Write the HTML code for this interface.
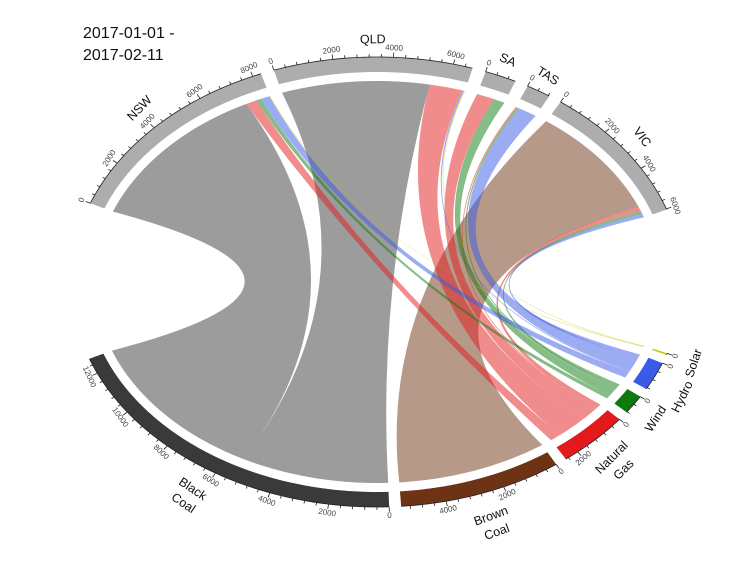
<!DOCTYPE html>
<html><head><meta charset="utf-8"><style>
html,body{margin:0;padding:0;background:#fff;}
svg{display:block;font-family:"Liberation Sans",sans-serif;}
</style></head><body>
<svg id="chart" width="754" height="566" viewBox="0 0 754 566">
<text x="83" y="38" font-size="16" fill="#111">2017-01-01 -</text>
<text x="83" y="60" font-size="16" fill="#111">2017-02-11</text>
<g id="chords"></g>
<g id="tracks"></g>
</svg>
<script>
const states = ['NSW','QLD','SA','TAS','VIC'];
const sources = ['Black Coal','Brown Coal','Natural Gas','Wind','Hydro','Solar'];
// flows from each source to states [NSW, QLD, SA, TAS, VIC]
const blackCoal = [7350,5350,0,0,0];
const brownCoal = [0,0,0,0,5500];
const naturalGas = [400,1200,650,60,200];
const wind = [180,0,420,80,150];
const hydro = [330,60,0,700,180];
const solar = [30,40,0,0,0];
const flows = [blackCoal,brownCoal,naturalGas,wind,hydro,solar];

const sourceColors = ['#3a3a3a','#6e3314','#e31a1c','#0d7a0d','#3a5ae8','#c8c800'];
const stateColor = '#adadad';
const cx=377, cy=282, rx=306, ry=225;
const BIG=38, SMALL=2.6, SRC_SMALL=2.25, START=159.5, SRC_START=-18.5;
const NS='http://www.w3.org/2000/svg';
const gCh=document.getElementById('chords');
const gTr=document.getElementById('tracks');

const stateTot = states.map((s,j)=>flows.reduce((a,f)=>a+f[j],0));
const srcTot = flows.map(f=>f.reduce((a,b)=>a+b,0));
const total = stateTot.reduce((a,b)=>a+b,0)+srcTot.reduce((a,b)=>a+b,0);
const scale = (360-2*BIG-9*SMALL)/total;

const sectors=[];
let t=START;
states.forEach((s,j)=>{sectors.push({name:s,kind:'state',idx:j,start:t,tot:stateTot[j]});t-=stateTot[j]*scale;if(j<states.length-1)t-=SMALL;});
t=SRC_START;
const srcOrder=[5,4,3,2,1,0];
srcOrder.forEach((i,k)=>{sectors.push({name:sources[i],kind:'src',idx:i,start:t,tot:srcTot[i]});t-=srcTot[i]*scale;if(k<srcOrder.length-1)t-=SRC_SMALL;});

function P(th,d){const r=th*Math.PI/180;return [cx+(rx+d)*Math.cos(r), cy-(ry+d)*Math.sin(r)];}
function arcPts(t1,t2,d){const n=Math.max(2,Math.ceil(Math.abs(t1-t2)/0.5));const pts=[];for(let i=0;i<=n;i++){pts.push(P(t1+(t2-t1)*i/n,d));}return pts;}
function f(p){return p[0].toFixed(2)+','+p[1].toFixed(2);}
function el(tag,attrs,parent){const e=document.createElementNS(NS,tag);for(const k in attrs)e.setAttribute(k,attrs[k]);parent.appendChild(e);return e;}

const stPos={}, srcPos={};
sectors.forEach(s=>{
  let off=0;
  if(s.kind==='state'){
    flows.forEach((fl,i)=>{stPos[i+'-'+s.idx]=[s.start-off*scale,s.start-(off+fl[s.idx])*scale];off+=fl[s.idx];});
  } else {
    for(let j=states.length-1;j>=0;j--){const v=flows[s.idx][j];srcPos[s.idx+'-'+j]=[s.start-off*scale,s.start-(off+v)*scale];off+=v;}
  }
});

const DC=-24;
flows.forEach((fl,i)=>{
  fl.forEach((v,j)=>{
    if(v<=0)return;
    const a=srcPos[i+'-'+j], b=stPos[i+'-'+j];
    const A=arcPts(a[0],a[1],DC), B=arcPts(b[0],b[1],DC);
    let d='M'+f(A[0]);
    A.slice(1).forEach(p=>d+='L'+f(p));
    d+='Q'+cx+','+cy+' '+f(B[0]);
    B.slice(1).forEach(p=>d+='L'+f(p));
    d+='Q'+cx+','+cy+' '+f(A[0])+'Z';
    const p=el('path',{d:d,fill:sourceColors[i],'fill-opacity':0.5},gCh);
    
    
  });
});

function rotFor(th){let r=90-th;while(r>180)r-=360;while(r<=-180)r+=360;if(r>90)r-=180;if(r<-90)r+=180;return r;}
const labelNudge={'Solar':0,'Hydro':-1.5};
const labelDist={'Solar':29,'Hydro':35,'Wind':27,'NSW':24,'VIC':21};

sectors.forEach(s=>{
  const t1=s.start, t2=s.start-s.tot*scale;
  const O=arcPts(t1,t2,0), I=arcPts(t2,t1,-15);
  let d='M'+O.map(f).join('L')+'L'+I.map(f).join('L')+'Z';
  const col=s.kind==='state'?stateColor:sourceColors[s.idx];
  const slug=s.name.toLowerCase().replace(' ','-');
  const tr=el('path',{d:d,fill:col},gTr);
  
  
  const ax=el('polyline',{points:O.map(f).join(' '),fill:'none',stroke:'#222','stroke-width':0.8},gTr);
  
  
  for(let v=0;v<=s.tot;v+=400){
    const th=t1-v*scale;
    const major=(v%2000===0);
    const p1=P(th,0),p2=P(th,major?5:3);
    const tk=el('line',{x1:p1[0],y1:p1[1],x2:p2[0],y2:p2[1],stroke:'#222','stroke-width':0.8},gTr);
    
    
    if(major){
      const lp=P(th,9);
      const tx=el('text',{x:0,y:0,'font-size':8,fill:'#444','text-anchor':'middle','dominant-baseline':'middle',transform:'translate('+lp[0].toFixed(1)+','+lp[1].toFixed(1)+') rotate('+rotFor(th).toFixed(1)+')'},gTr);
      tx.textContent=String(v);
      
      
    }
  }
  const mid=(t1+t2)/2+(labelNudge[s.name]||0);
  const words=s.name.split(' ');
  words.forEach((w,k)=>{
    const dist=words.length>1?(25+k*17):(labelDist[s.name]||(s.kind==='state'?17:27));
    const lp=P(mid,dist);
    const tx=el('text',{x:0,y:0,'font-size':12.5,fill:'#111','text-anchor':'middle','dominant-baseline':'middle',transform:'translate('+lp[0].toFixed(1)+','+lp[1].toFixed(1)+') rotate('+rotFor(mid).toFixed(1)+')'},gTr);
    tx.textContent=w;
    
    
  });
});
</script>
</body></html>
